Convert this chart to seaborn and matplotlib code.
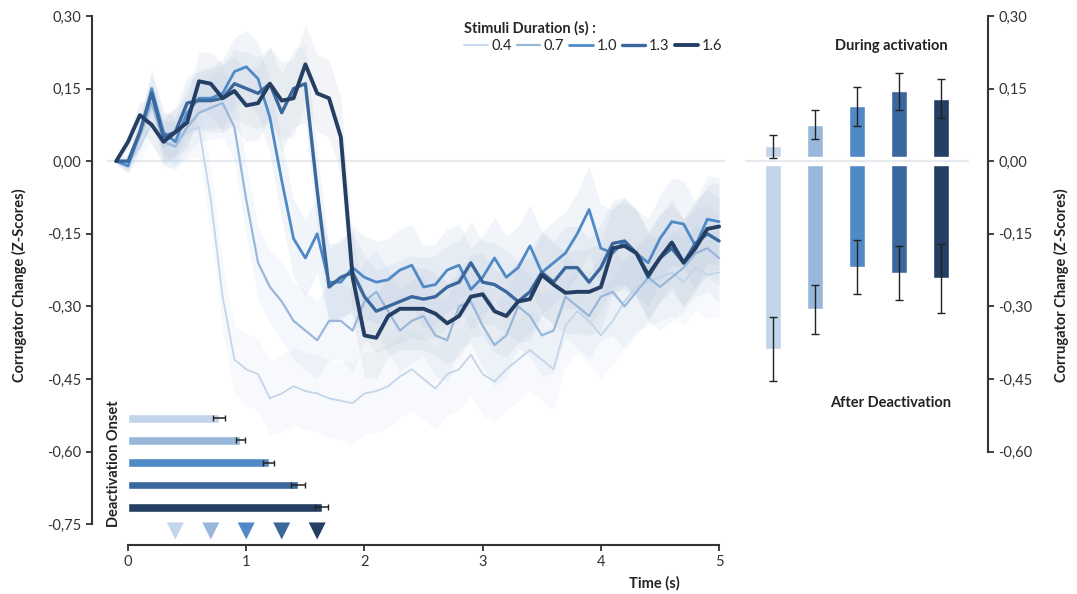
import numpy as np
import pandas as pd
import matplotlib.pyplot as plt
import seaborn as sns
from matplotlib.lines import Line2D

sns.set_theme(style="white")
plt.rcParams['font.family'] = ['Lato', 'DejaVu Sans']
plt.rcParams['axes.unicode_minus'] = False

# stimulus durations (legend categories)
durations = ['0.4', '0.7', '1.0', '1.3', '1.6']
dur_values = [0.4, 0.7, 1.0, 1.3, 1.6]

# time grid of the traces (s)
time_s = np.round(np.arange(-0.1, 5.01, 0.1), 2)

# mean corrugator traces (one value per 0.1 s)
trace_04 = [0.00, -0.005, 0.03, 0.08, 0.03, 0.04, 0.06, 0.07, -0.08, -0.28,
            -0.41, -0.43, -0.44, -0.49, -0.48, -0.465, -0.475, -0.48, -0.49, -0.495,
            -0.50, -0.48, -0.475, -0.465, -0.445, -0.43, -0.45, -0.47, -0.44, -0.43,
            -0.40, -0.44, -0.455, -0.43, -0.41, -0.39, -0.41, -0.43, -0.34, -0.31,
            -0.33, -0.36, -0.33, -0.29, -0.26, -0.25, -0.24, -0.23, -0.25, -0.22,
            -0.235, -0.23]
trace_07 = [0.00, -0.01, 0.05, 0.12, 0.04, 0.03, 0.07, 0.10, 0.11, 0.12,
            0.07, -0.08, -0.21, -0.26, -0.29, -0.33, -0.35, -0.37, -0.33, -0.33,
            -0.35, -0.29, -0.27, -0.31, -0.35, -0.33, -0.32, -0.36, -0.37, -0.30,
            -0.29, -0.34, -0.38, -0.36, -0.30, -0.32, -0.36, -0.35, -0.28, -0.30,
            -0.32, -0.28, -0.27, -0.30, -0.27, -0.24, -0.26, -0.24, -0.22, -0.19,
            -0.18, -0.20]
trace_10 = [0.00, -0.01, 0.06, 0.15, 0.06, 0.04, 0.10, 0.13, 0.13, 0.14,
            0.185, 0.195, 0.17, 0.09, -0.04, -0.16, -0.20, -0.15, -0.25, -0.25,
            -0.22, -0.24, -0.25, -0.245, -0.225, -0.215, -0.26, -0.255, -0.225, -0.215,
            -0.265, -0.24, -0.20, -0.24, -0.22, -0.175, -0.23, -0.21, -0.19, -0.15,
            -0.10, -0.18, -0.19, -0.165, -0.19, -0.21, -0.16, -0.125, -0.13, -0.175,
            -0.12, -0.125]
trace_13 = [0.00, 0.00, 0.06, 0.14, 0.05, 0.06, 0.12, 0.125, 0.125, 0.13,
            0.16, 0.15, 0.14, 0.16, 0.10, 0.15, 0.16, -0.06, -0.26, -0.24,
            -0.23, -0.28, -0.31, -0.30, -0.29, -0.28, -0.285, -0.28, -0.26, -0.25,
            -0.21, -0.25, -0.255, -0.27, -0.29, -0.27, -0.23, -0.25, -0.22, -0.22,
            -0.25, -0.22, -0.17, -0.165, -0.19, -0.24, -0.20, -0.18, -0.21, -0.17,
            -0.15, -0.165]
trace_16 = [0.00, 0.04, 0.095, 0.075, 0.04, 0.06, 0.08, 0.165, 0.16, 0.13,
            0.145, 0.115, 0.12, 0.16, 0.125, 0.13, 0.20, 0.14, 0.13, 0.05,
            -0.24, -0.36, -0.365, -0.32, -0.305, -0.305, -0.305, -0.315, -0.335, -0.32,
            -0.28, -0.275, -0.31, -0.32, -0.29, -0.285, -0.235, -0.255, -0.272, -0.27,
            -0.27, -0.26, -0.18, -0.175, -0.19, -0.235, -0.20, -0.168, -0.21, -0.18,
            -0.14, -0.135]
# half width of the shaded bands
band_half = [0.005, 0.015, 0.03, 0.04, 0.045, 0.05, 0.055, 0.06, 0.065, 0.07,
             0.07, 0.075, 0.075, 0.075, 0.08, 0.08, 0.08, 0.08, 0.08, 0.08,
             0.085, 0.085, 0.085, 0.085, 0.085, 0.085, 0.085, 0.085, 0.085, 0.085,
             0.085, 0.085, 0.085, 0.085, 0.085, 0.085, 0.085, 0.085, 0.085, 0.085,
             0.09, 0.09, 0.09, 0.09, 0.09, 0.09, 0.09, 0.09, 0.09, 0.09,
             0.09, 0.09]

# deactivation onset (s)
onset_mean = [0.77, 0.95, 1.19, 1.44, 1.64]
onset_err = [0.05, 0.04, 0.045, 0.06, 0.055]

# right panel bars
during_mean = [0.031, 0.075, 0.113, 0.144, 0.129]
during_err = [0.024, 0.030, 0.040, 0.038, 0.040]
after_mean = [-0.388, -0.306, -0.219, -0.231, -0.242]
after_err = [0.067, 0.051, 0.056, 0.055, 0.071]

ytick_vals = [0.30, 0.15, 0.00, -0.15, -0.30, -0.45, -0.60, -0.75]
ytick_labels = ['0,30', '0,15', '0,00', '-0,15', '-0,30', '-0,45', '-0,60', '-0,75']

colors = ['#c2d5ea', '#98b7da', '#4f89c6', '#3a679c', '#243f63']
band_colors = ['#c9daee', '#b3cbe6', '#9dbde0', '#a9bcd3', '#aab6c8']
widths = [1.3, 1.6, 2.0, 2.4, 2.8]
dark = '#333333'

traces = [trace_04, trace_07, trace_10, trace_13, trace_16]
df = pd.concat([pd.DataFrame({'time': time_s, 'value': tr, 'duration': d})
                for tr, d in zip(traces, durations)], ignore_index=True)

fig = plt.figure(figsize=(10.77, 5.94), dpi=100)
ax = fig.add_axes([92 / 1077, 49 / 594, 633 / 1077, 531 / 594])
ax2 = fig.add_axes([745 / 1077, 49 / 594, 243 / 1077, 531 / 594])
ylim = (-0.793, 0.304)

# zero reference line
ax.axhline(0, xmin=0.025, xmax=1, color='#e6eaef', lw=1.5, zorder=0)
ax2.axhline(0, xmin=0, xmax=0.918, color='#e6eaef', lw=1.5, zorder=0)

# shaded bands
for tr, c in zip(traces, band_colors):
    lo = np.array(tr) - np.array(band_half)
    hi = np.array(tr) + np.array(band_half)
    ax.fill_between(time_s, lo, hi, color=c, alpha=0.14, lw=0, zorder=1)

sns.lineplot(data=df, x='time', y='value', hue='duration', size='duration',
             palette=dict(zip(durations, colors)), sizes=dict(zip(durations, widths)),
             legend=False, ax=ax, zorder=3)
for ln in ax.lines:
    ln.set_solid_joinstyle('round')

# deactivation onset inset
onset_y = -0.531 - 0.046 * np.arange(5)
ax.barh(onset_y, onset_mean, height=0.018, left=0, color=colors,
        xerr=onset_err, error_kw=dict(ecolor='#222222', capsize=2.5, elinewidth=1.1, capthick=1),
        zorder=4)
ax.scatter(dur_values, [-0.764] * 5, marker='v', s=150, c=colors, linewidths=0, zorder=4)
ax.text(-0.115, -0.625, 'Deactivation Onset', rotation=90, ha='center', va='center',
        fontsize=10.5, fontweight='bold', color='#222222')

ax.set_xlim(-0.305, 5.05)
ax.set_ylim(*ylim)
ax.set_xticks(range(6))
ax.set_xticklabels([str(i) for i in range(6)])
ax.set_yticks(ytick_vals)
ax.set_yticklabels(ytick_labels)
for s in ['top', 'right']:
    ax.spines[s].set_visible(False)
ax.spines['left'].set_bounds(-0.75, 0.30)
ax.spines['bottom'].set_bounds(0, 5)
for s in ['left', 'bottom']:
    ax.spines[s].set_color(dark)
    ax.spines[s].set_linewidth(1.5)
ax.tick_params(axis='both', direction='out', length=4, width=1.3, color=dark,
               labelsize=10.5, labelcolor='#333333', left=True, bottom=True)
ax.set_xlabel('Time (s)', fontsize=10.5, fontweight='bold', color='#222222')
ax.xaxis.set_label_coords(0.889, -0.058)
ax.set_ylabel('Corrugator Change (Z-Scores)', fontsize=10.5, fontweight='bold', color='#222222')
ax.yaxis.set_label_coords(-0.103, 0.49)

handles = [Line2D([], [], color=c, lw=w) for c, w in zip(colors, widths)]
leg = ax.legend(handles, durations, title='Stimuli Duration (s) :', ncol=5, frameon=False,
                loc='upper left', bbox_to_anchor=(457 / 1077, 1 - 14 / 594),
                bbox_transform=fig.transFigure, fontsize=10.5, title_fontsize=10.5,
                handlelength=1.6, handletextpad=0.25, columnspacing=0.35, borderpad=0,
                labelspacing=0.2, alignment='left')
leg.get_title().set_fontweight('bold')

# right panel: during activation / after deactivation
xpos = np.arange(5)
gap = 0.008
ax2.bar(xpos, np.array(during_mean) - gap, bottom=gap, width=0.38, color=colors, zorder=2)
ax2.bar(xpos, np.array(after_mean) + gap, bottom=-gap, width=0.38, color=colors, zorder=2)
ax2.errorbar(xpos, during_mean, yerr=during_err, fmt='none', ecolor='#222222',
             elinewidth=1, capsize=3, capthick=1, zorder=3)
ax2.errorbar(xpos, after_mean, yerr=after_err, fmt='none', ecolor='#222222',
             elinewidth=1, capsize=3, capthick=1, zorder=3)
ax2.text(2.81, 0.238, 'During activation', ha='center', va='center',
         fontsize=10.5, fontweight='bold', color='#222222')
ax2.text(2.81, -0.50, 'After Deactivation', ha='center', va='center',
         fontsize=10.5, fontweight='bold', color='#222222')
ax2.set_xlim(-0.667, 5.12)
ax2.set_ylim(*ylim)
ax2.set_xticks([])
ax2.yaxis.tick_right()
ax2.set_yticks(ytick_vals[:-1])
ax2.set_yticklabels(ytick_labels[:-1])
for s in ['top', 'left', 'bottom']:
    ax2.spines[s].set_visible(False)
ax2.spines['right'].set_bounds(-0.60, 0.30)
ax2.spines['right'].set_color(dark)
ax2.spines['right'].set_linewidth(1.5)
ax2.tick_params(axis='y', direction='out', length=4, width=1.3, color=dark,
                labelsize=10.5, labelcolor='#333333', right=True)
ax2.yaxis.set_label_position('right')
ax2.set_ylabel('Corrugator Change (Z-Scores)', fontsize=10.5, fontweight='bold',
               color='#222222', rotation=90)
ax2.yaxis.set_label_coords(1.27, 0.49)
ax2.patch.set_alpha(0)
ax.patch.set_alpha(0)

fig.savefig('out.png', dpi=100)
